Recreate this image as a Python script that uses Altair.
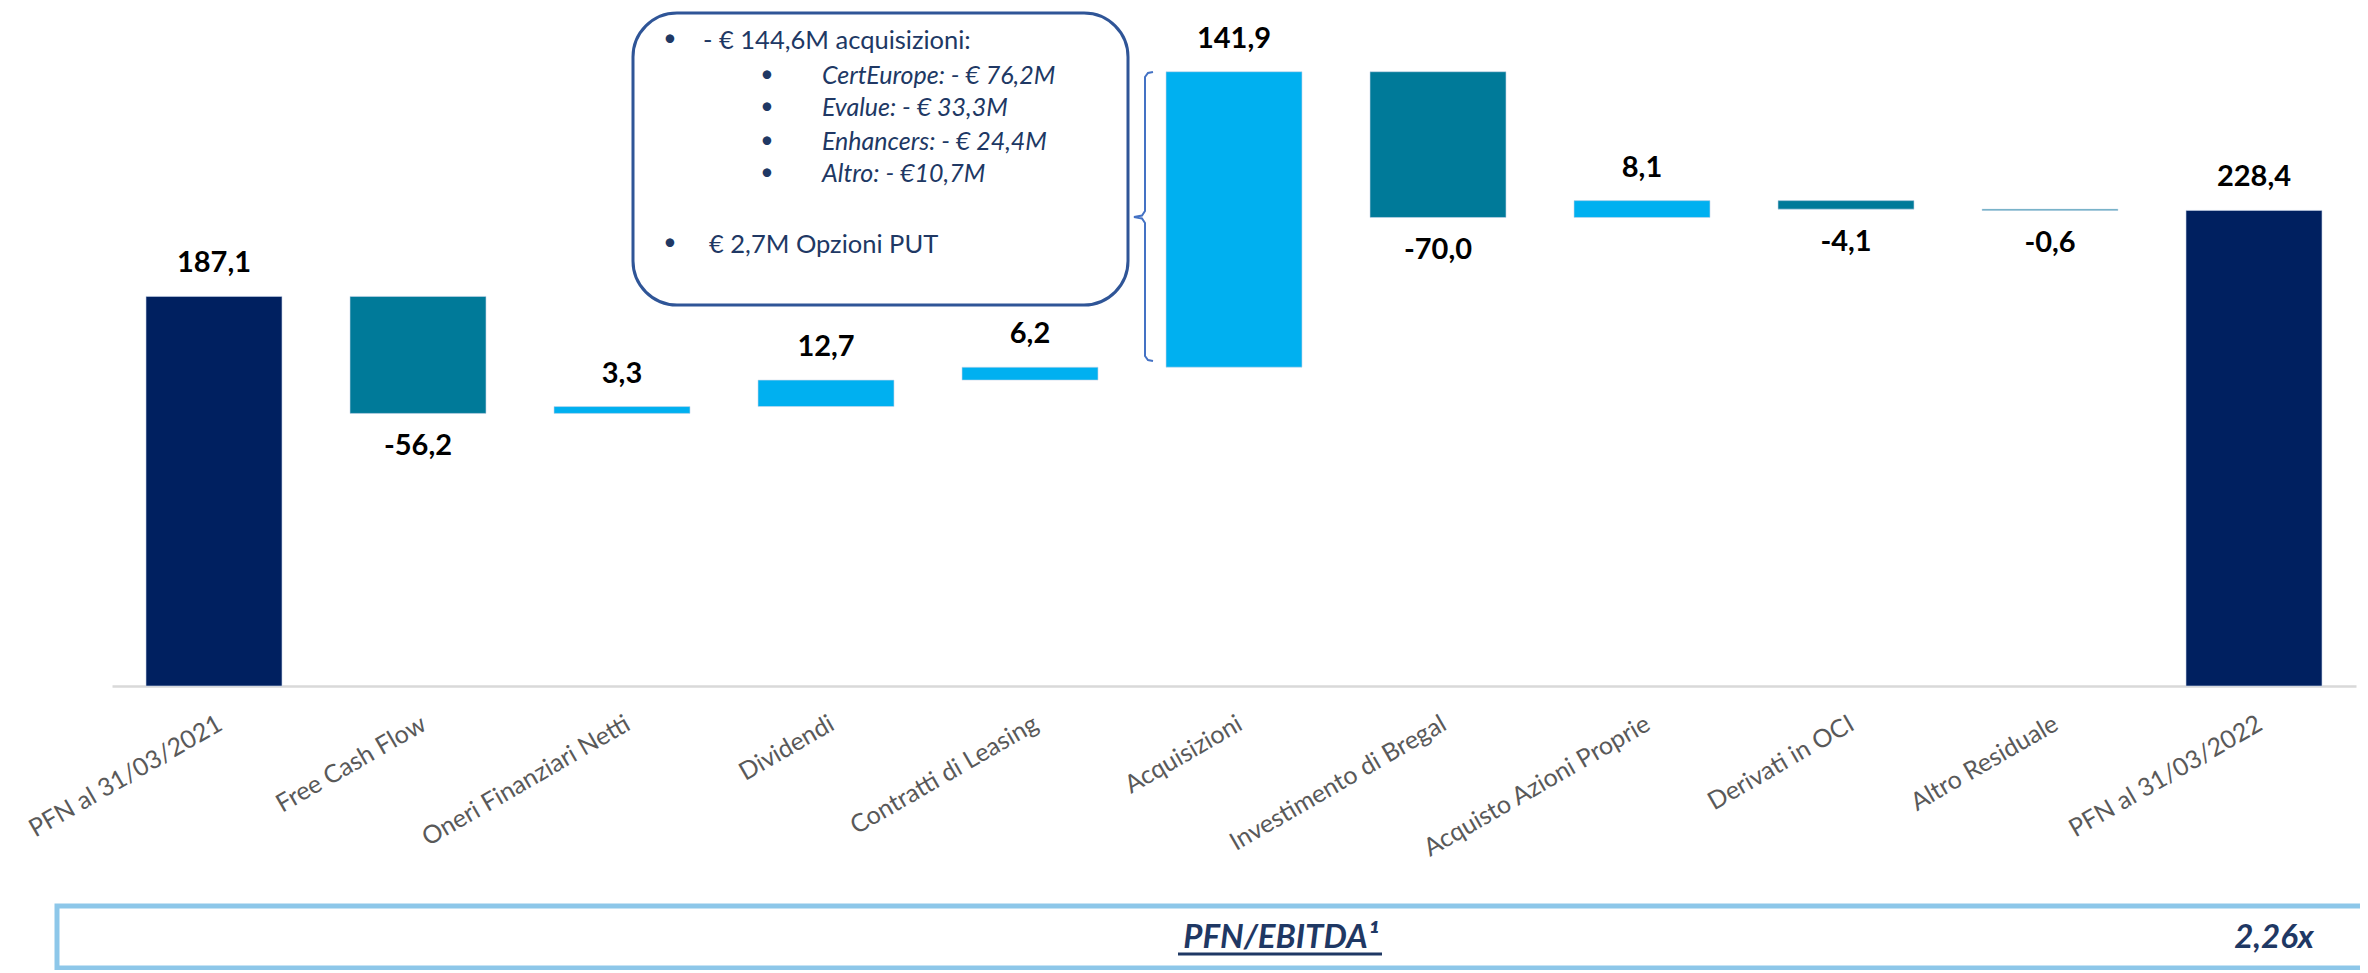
import altair as alt
import pandas as pd

# ---------------- data ----------------
categories = ["PFN al 31/03/2021", "Free Cash Flow", "Oneri Finanziari Netti", "Dividendi",
              "Contratti di Leasing", "Acquisizioni", "Investimento di Bregal",
              "Acquisto Azioni Proprie", "Derivati in OCI", "Altro Residuale", "PFN al 31/03/2022"]
values = [187.1, -56.2, 3.3, 12.7, 6.2, 141.9, -70.0, 8.1, -4.1, -0.6, 228.4]
kinds = ["total", "dec", "inc", "inc", "inc", "inc", "dec", "inc", "dec", "dec", "total"]

note_main = ["- € 144,6M acquisizioni:", "€ 2,7M Opzioni PUT"]
note_sub = ["CertEurope: - € 76,2M", "Evalue: - € 33,3M", "Enhancers: - € 24,4M", "Altro: - €10,7M"]
ratio_label = "PFN/EBITDA¹"
ratio_value = "2,26x"

# ---------------- waterfall table ----------------
rows = []
run = 0.0
for c, v, k in zip(categories, values, kinds):
    if k == "total":
        s, e = 0.0, v
        run = v
    else:
        s, e = run, run + v
        run = run + v
    rows.append(dict(cat=c, start=s, end=e, kind=k,
                     label=f"{v:.1f}".replace(".", ","),
                     top=max(s, e), bot=min(s, e)))
df = pd.DataFrame(rows)

NAVY = "#002060"
LIGHT = "#00B0F0"
TEAL = "#007A99"
TXT = "#203864"
FONT = "Lato"

x = alt.X("cat:N", sort=categories,
          scale=alt.Scale(paddingInner=1 / 3, paddingOuter=1 / 6),
          axis=alt.Axis(title=None, labelAngle=-30, labelAlign="right", labelBaseline="top",
                        labelPadding=25, ticks=False, domainColor="#D9D9D9", domainWidth=2.5,
                        labelFont=FONT, labelFontSize=25, labelColor="#595959", labelLimit=0,
                        grid=False))
yscale = alt.Scale(domain=[0, 325.6], nice=False, zero=False)

bars = alt.Chart(df).mark_bar(strokeWidth=1, stroke="#C9D6EA", strokeOpacity=0.6).encode(
    x=x,
    y=alt.Y("start:Q", scale=yscale, axis=None),
    y2="end:Q",
    color=alt.Color("kind:N", scale=alt.Scale(domain=["total", "inc", "dec"],
                                              range=[NAVY, LIGHT, TEAL]), legend=None),
)
lab_up = alt.Chart(df).transform_filter("datum.kind != 'dec'").mark_text(
    baseline="bottom", dy=-18, font=FONT, fontSize=29, fontWeight="bold", color="black"
).encode(x=x, y=alt.Y("top:Q", scale=yscale, axis=None), text="label:N")
lab_dn = alt.Chart(df).transform_filter("datum.kind == 'dec'").mark_text(
    baseline="top", dy=19, font=FONT, fontSize=29, fontWeight="bold", color="black"
).encode(x=x, y=alt.Y("bot:Q", scale=yscale, axis=None), text="label:N")

main = alt.layer(bars, lab_up, lab_dn)

# ---------------- annotations (pixel positions in plot area) ----------------
brace_df = pd.DataFrame({
    "bx": [1041, 1036, 1033, 1033, 1030, 1022, 1030, 1033, 1033, 1036, 1041],
    "by": [64, 65, 69, 203, 207.5, 209, 210.5, 215, 348, 352, 353],
    "i": list(range(11)),
})
brace = alt.Chart(brace_df).mark_line(color="#4472C4", strokeWidth=2).encode(
    x=alt.X("bx:Q", scale=None, axis=None),
    y=alt.Y("by:Q", scale=None, axis=None),
    order="i:Q",
)

one = pd.DataFrame({"d": [0]})
note_box = alt.Chart(one).mark_rect(cornerRadius=44, fill="white", fillOpacity=0,
                                    stroke="#2F5597", strokeWidth=3).encode(
    x=alt.value(521), x2=alt.value(1016), y=alt.value(5), y2=alt.value(297))

bul_df = pd.DataFrame({"tx": [558, 655, 655, 655, 655, 558],
                       "ty": [31, 67, 99, 133, 165, 235],
                       "t": ["•"] * 6})
bullets = alt.Chart(bul_df).mark_text(align="center", baseline="middle", font=FONT,
                                      fontSize=23, color=TXT).encode(
    x=alt.X("tx:Q", scale=None, axis=None), y=alt.Y("ty:Q", scale=None, axis=None), text="t:N")

main_df = pd.DataFrame({"tx": [591, 597], "ty": [33, 237], "t": note_main})
main_txt = alt.Chart(main_df).mark_text(align="left", baseline="middle", font=FONT,
                                        fontSize=25.5, color=TXT).encode(
    x=alt.X("tx:Q", scale=None, axis=None), y=alt.Y("ty:Q", scale=None, axis=None), text="t:N")

sub_df = pd.DataFrame({"tx": [710] * 4, "ty": [68, 100, 134, 166], "t": note_sub})
sub_txt = alt.Chart(sub_df).mark_text(align="left", baseline="middle", font=FONT,
                                      fontSize=25, fontStyle="italic", color=TXT).encode(
    x=alt.X("tx:Q", scale=None, axis=None), y=alt.Y("ty:Q", scale=None, axis=None), text="t:N")

# ---------------- bottom ratio box ----------------
ratio_box = alt.Chart(one).mark_rect(fill="white", fillOpacity=0, stroke="#8DC7E9",
                                     strokeWidth=5).encode(
    x=alt.value(-55), x2=alt.value(2275), y=alt.value(898), y2=alt.value(960))
ratio_df = pd.DataFrame({"tx": [1169, 2162], "ty": [930, 930], "t": [ratio_label, ratio_value]})
ratio_txt = alt.Chart(ratio_df).mark_text(align="center", baseline="middle", font=FONT,
                                          fontSize=33, fontWeight="bold", fontStyle="italic",
                                          color="#1F3864").encode(
    x=alt.X("tx:Q", scale=None, axis=None), y=alt.Y("ty:Q", scale=None, axis=None), text="t:N")
underline = alt.Chart(one).mark_rule(color="#1F3864", strokeWidth=3).encode(
    x=alt.value(1066), x2=alt.value(1270), y=alt.value(946))

chart = alt.layer(
    main, brace, note_box, bullets, main_txt, sub_txt, ratio_box, ratio_txt, underline
).resolve_scale(x="independent", y="independent").properties(
    width=2244, height=678,
    autosize=alt.AutoSizeParams(type="none"),
    padding={"left": 104, "top": 0, "right": 4, "bottom": 284},
).configure_view(stroke=None)

chart.save("out.html", embed_options={"renderer": "svg", "actions": False})
